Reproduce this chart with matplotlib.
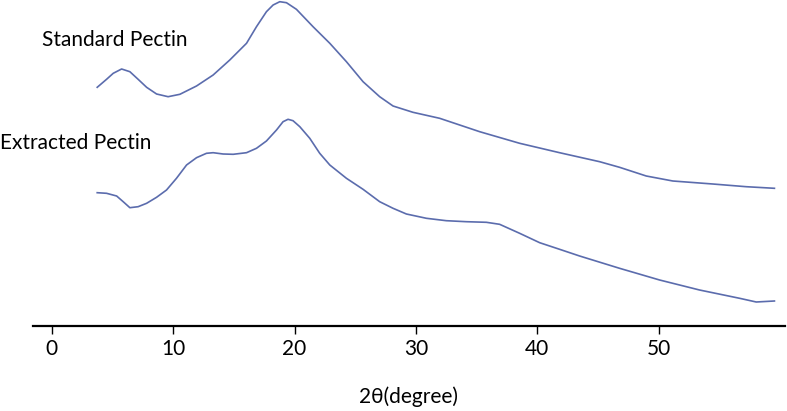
import matplotlib

matplotlib.use("Agg")
import matplotlib.pyplot as plt

# XRD patterns (2-theta in degrees, intensity in arbitrary units)
std_theta = [3.74, 4.51, 5.06, 5.75, 6.43, 7.11, 7.81, 8.63, 9.58, 10.55, 11.92, 13.29,
             14.66, 16.04, 16.86, 17.68, 18.23, 18.78, 19.33, 20.15, 21.52, 22.90,
             24.27, 25.64, 27.01, 28.11, 29.75, 31.95, 35.25, 38.54, 41.83, 45.13,
             46.77, 48.97, 51.16, 54.45, 57.20, 59.53]
std_int = [238.7, 246.7, 252.7, 257.0, 254.3, 246.7, 238.7, 232.0, 229.3, 231.7, 240.0, 251.0,
           266.0, 282.7, 299.3, 314.3, 321.0, 324.3, 323.3, 316.7, 299.3, 282.7,
           264.3, 244.3, 229.3, 220.0, 213.7, 207.7, 194.3, 182.7, 173.3, 164.3,
           158.7, 150.0, 145.0, 142.0, 139.3, 137.7]

ext_theta = [3.74, 4.51, 5.34, 5.88, 6.43, 7.11, 7.81, 8.63, 9.45, 10.27, 11.10, 11.92,
             12.74, 13.29, 14.11, 14.94, 16.04, 16.86, 17.68, 18.51, 19.05, 19.46,
             19.87, 20.43, 21.25, 22.07, 22.90, 24.27, 25.64, 27.01, 28.11, 29.21,
             30.86, 32.50, 34.15, 35.80, 36.89, 38.54, 40.19, 41.83, 43.48, 46.77,
             50.07, 53.36, 56.66, 58.03, 59.53]
ext_int = [133.3, 132.7, 130.0, 124.3, 118.3, 119.3, 122.7, 128.7, 136.0, 147.7, 161.0, 168.3,
           172.7, 173.3, 172.0, 171.7, 173.3, 177.7, 185.0, 196.0, 204.3, 206.7,
           205.3, 199.3, 187.7, 172.7, 161.0, 147.7, 136.7, 124.3, 117.7, 112.0,
           107.7, 105.3, 104.3, 103.7, 101.7, 92.7, 83.3, 76.7, 70.0, 57.7,
           46.0, 36.0, 27.7, 24.0, 25.0]

ticks = [0, 10, 20, 30, 40, 50]
line_colour = "#5b6cad"

plt.rcParams["font.family"] = ["Lato", "DejaVu Sans"]

fig = plt.figure(figsize=(7.87, 4.11), dpi=100)
ax = fig.add_axes([33 / 787, 85 / 411, 752 / 787, 326 / 411])
ax.plot(std_theta, std_int, color=line_colour, lw=1.2,
        solid_joinstyle="round", antialiased=True)
ax.plot(ext_theta, ext_int, color=line_colour, lw=1.2,
        solid_joinstyle="round", antialiased=True)

ax.set_xlim(-1.55, 60.4)
ax.set_ylim(0, 326)
for side in ("top", "right", "left"):
    ax.spines[side].set_visible(False)
ax.spines["bottom"].set_linewidth(1.6)
ax.set_yticks([])
ax.set_xticks(ticks)
ax.tick_params(axis="x", direction="out", length=6, width=1, labelsize=15, pad=3)
ax.set_xlabel("2θ(degree)", fontsize=15, labelpad=20)

ax.text(-0.82, 286, "Standard Pectin", fontsize=15, va="center", ha="left")
ax.text(-4.27, 183, "Extracted Pectin", fontsize=15, va="center", ha="left")

fig.savefig("out.png", dpi=100)
